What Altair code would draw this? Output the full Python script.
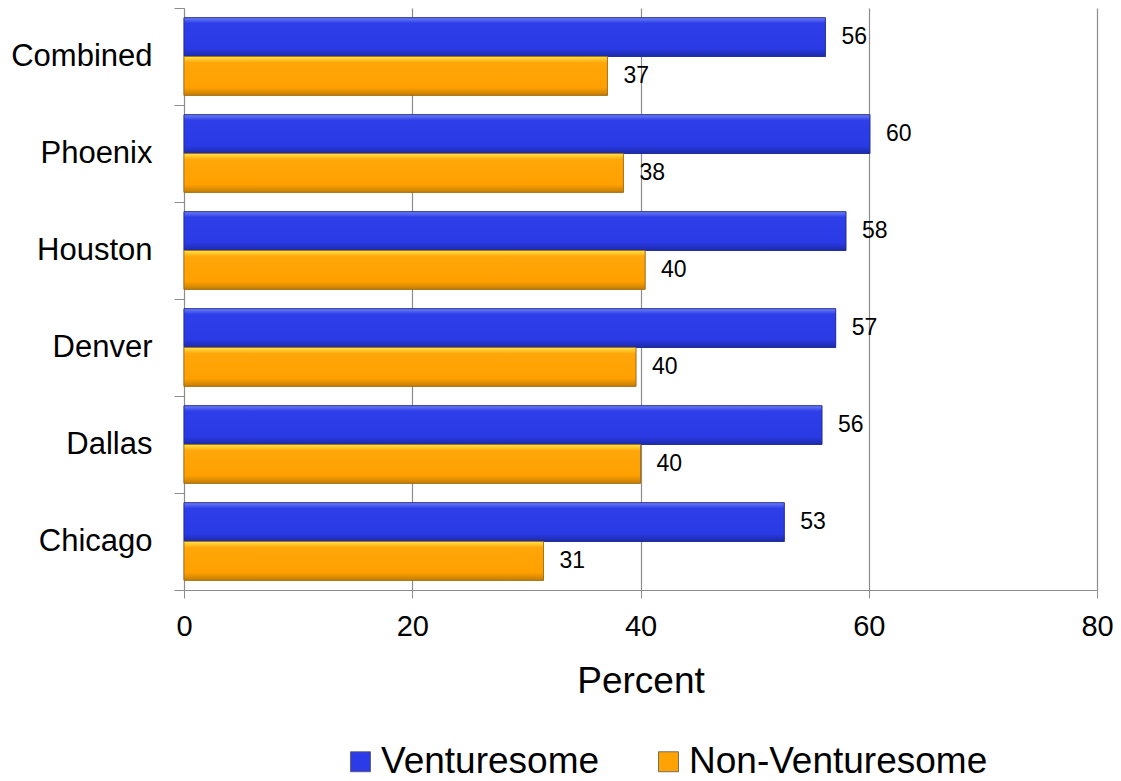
import altair as alt
import pandas as pd

cities = ["Combined", "Phoenix", "Houston", "Denver", "Dallas", "Chicago"]
series = ["Venturesome", "Non-Venturesome"]
venturesome = [56.2, 60.1, 58.0, 57.1, 55.9, 52.6]
non_venturesome = [37.1, 38.5, 40.4, 39.6, 40.0, 31.5]
v_labels = ["56", "60", "58", "57", "56", "53"]
nv_labels = ["37", "38", "40", "40", "40", "31"]
x_ticks = [0, 20, 40, 60, 80]

rows = []
for c, v, nv, vl, nvl in zip(cities, venturesome, non_venturesome, v_labels, nv_labels):
    rows.append({"city": c, "series": series[0], "value": v, "label": vl})
    rows.append({"city": c, "series": series[1], "value": nv, "label": nvl})
df = pd.DataFrame(rows)

blue_grad = {"gradient": "linear", "x1": 0, "y1": 0, "x2": 0, "y2": 1,
             "stops": [{"offset": 0, "color": "#6F80F5"},
                       {"offset": 0.14, "color": "#2E3FEA"},
                       {"offset": 0.8, "color": "#2A3AE4"},
                       {"offset": 1, "color": "#1C2AA8"}]}
orange_grad = {"gradient": "linear", "x1": 0, "y1": 0, "x2": 0, "y2": 1,
               "stops": [{"offset": 0, "color": "#FFE44A"},
                         {"offset": 0.16, "color": "#FFA60A"},
                         {"offset": 0.8, "color": "#FFA000"},
                         {"offset": 1, "color": "#C47E06"}]}

y_enc = alt.Y("city:N", sort=cities,
              scale=alt.Scale(paddingInner=0, paddingOuter=0),
              axis=alt.Axis(title=None, tickBand="extent", tickSize=10, tickColor="#8c8c8c",
                            domainColor="#8c8c8c", labelFont="Liberation Sans",
                            labelFontSize=31, labelColor="#000000", labelPadding=22,
                            grid=False))
yoff = alt.YOffset("series:N", sort=series, scale=alt.Scale(paddingInner=0, paddingOuter=0.25))
x_enc = alt.X("value:Q", scale=alt.Scale(domain=[0, 80]),
              axis=alt.Axis(title="Percent", values=x_ticks, tickSize=8, tickColor="#8c8c8c",
                            domainColor="#8c8c8c", gridColor="#8c8c8c", gridWidth=1.2,
                            labelFont="Liberation Sans", labelFontSize=29, labelColor="#000000",
                            labelPadding=14, labelFlush=False, titleFont="Liberation Sans",
                            titleFontSize=37, titleFontWeight="normal", titleColor="#000000",
                            titlePadding=22))

base = alt.Chart(df)

bars = base.mark_bar(stroke="#555555", strokeWidth=0.6).encode(
    y=y_enc, yOffset=yoff, x=x_enc,
    color=alt.Color("series:N", sort=series,
                    scale=alt.Scale(domain=series, range=["#2B3BE8", "#FFA305"]),
                    legend=alt.Legend(title=None, orient="none", direction="horizontal",
                                      legendX=158, legendY=735, symbolType="square",
                                      symbolSize=400, symbolStrokeColor="#555555",
                                      symbolStrokeWidth=0.8, labelFont="Liberation Sans",
                                      labelFontSize=37, labelColor="#000000", labelLimit=500,
                                      labelOffset=2, columnPadding=50)))

blue_over = base.transform_filter(alt.datum.series == series[0]).mark_bar(
    color=blue_grad, stroke="#1C2A9C", strokeWidth=0.8).encode(y=y_enc, yOffset=yoff, x=x_enc)
orange_over = base.transform_filter(alt.datum.series == series[1]).mark_bar(
    color=orange_grad, stroke="#A86A00", strokeWidth=0.8).encode(y=y_enc, yOffset=yoff, x=x_enc)

labels = base.mark_text(align="left", baseline="middle", dx=16, font="Liberation Sans",
                        fontSize=23, color="#000000").encode(
    y=y_enc, yOffset=yoff, x=x_enc, text="label:N")

chart = alt.layer(bars, blue_over, orange_over, labels).properties(
    width=913, height=582,
    autosize=alt.AutoSizeParams(type="none"),
    padding={"left": 176, "top": 0, "right": 16, "bottom": 192},
).configure_view(stroke=None).configure_axisX(grid=True).configure_axisY(grid=False)

chart.save("out.html", embed_options={"renderer": "svg", "actions": False})
